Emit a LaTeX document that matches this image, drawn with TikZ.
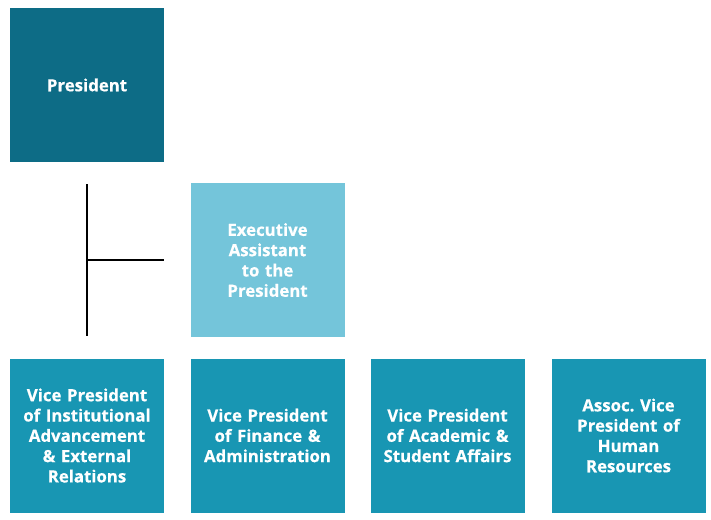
\documentclass[tikz,border=0pt]{standalone}
\usepackage{fontspec}
\setmainfont{Open Sans}
\newfontfamily\boxfont[BoldFeatures={FakeBold=0.6}]{Open Sans}
\definecolor{presc}{HTML}{0D6C86}
\definecolor{execc}{HTML}{74C5DA}
\definecolor{vpc}{HTML}{1896B3}
\begin{document}
\begin{tikzpicture}[x=1pt,y=-1pt,
  box/.style={minimum width=154pt,minimum height=154pt,inner sep=0pt,text=white,
    font=\boxfont\bfseries\fontsize{16.8}{20.3}\selectfont\frenchspacing,align=center,text width=150pt},
  conn/.style={line width=1.6pt,black}]
\useasboundingbox (0,0) rectangle (711,519);
\fill[white] (0,0) rectangle (711,519);
\node[box,fill=presc] (pres) at (87,85) {President};
\node[box,fill=execc] (exec) at (267.5,260) {Executive\\Assistant\\to the\\President};
\node[box,fill=vpc] (vp1) at (87,435.5) {Vice President\\of Institutional\\Advancement\\\& External\\Relations};
\node[box,fill=vpc] (vp2) at (267.5,435.5) {Vice President\\of Finance \&\\Administration};
\node[box,fill=vpc] (vp3) at (447.5,435.5) {Vice President\\of Academic \&\\Student Affairs};
\node[box,fill=vpc] (vp4) at (628.5,435.5) {Assoc. Vice\\President of\\Human\\Resources};
\coordinate (vtop) at (87,184);
\coordinate (vbot) at (87,336);
\coordinate (hj) at (87,260);
\coordinate (hend) at (164,260);
\draw[conn] (vtop) -- (vbot);
\draw[conn] (hj) -- (hend);
\end{tikzpicture}
\end{document}
